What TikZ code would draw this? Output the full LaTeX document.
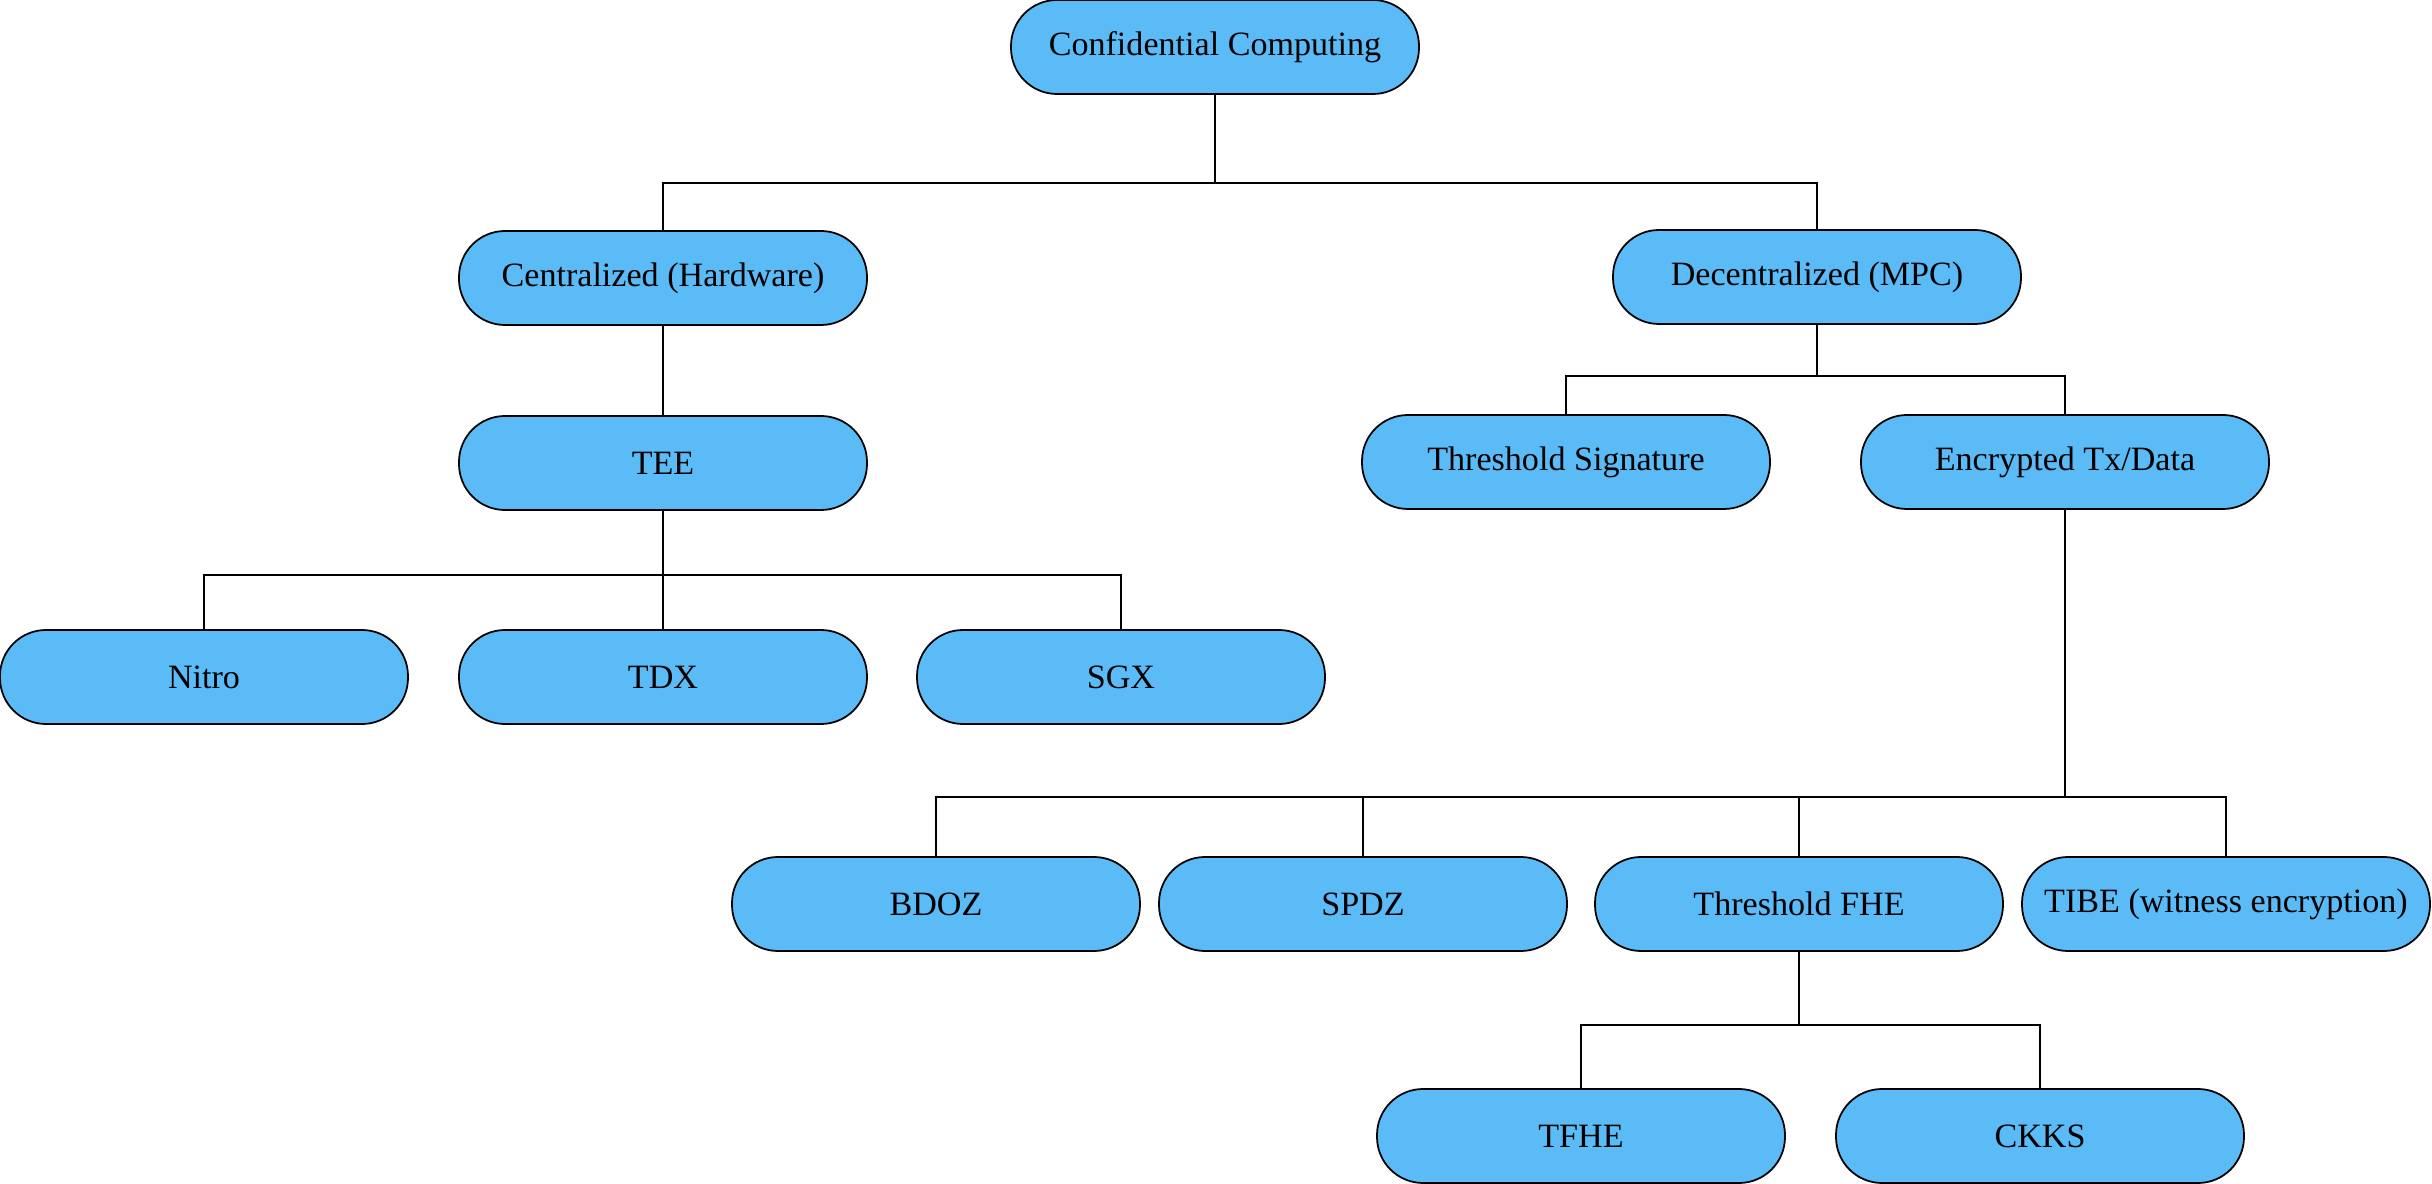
\documentclass[tikz,border=0pt]{standalone}
\usepackage{fontspec}
\setmainfont{Liberation Serif}
\usetikzlibrary{calc}
\definecolor{boxblue}{HTML}{5ABBF7}
\tikzset{
  box/.style={draw=black, line width=0.5pt, fill=boxblue, rounded corners=0.46cm,
    minimum width=4.08cm, minimum height=0.94cm, inner sep=0pt,
    font=\fontsize{9.7}{12}\selectfont},
  link/.style={draw=black, line width=0.4pt}
}

\begin{document}
\begin{tikzpicture}
			%%%%% START %%%%%
			\useasboundingbox (0, 0) rectangle (24.32, -11.84);
			
			\node[box] (conf) at (12.15, -0.47) {Confidential Computing};
			
			\node[box] (central) at (6.63, -2.78) {Centralized (Hardware)};
			\node[box] (decentral) at (18.17, -2.77) {Decentralized (MPC)};
			
			\node[box] (tee) at (6.63, -4.63) {TEE};
			\node[box] (thsig) at (15.66, -4.62) {Threshold Signature};
			\node[box] (enc) at (20.65, -4.62) {Encrypted Tx/Data};
			
			\node[box] (nitro) at (2.04, -6.77) {Nitro};
			\node[box] (tdx) at (6.63, -6.77) {TDX};
			\node[box] (sgx) at (11.21, -6.77) {SGX};
			
			\node[box] (bdoz) at (9.36, -9.04) {BDOZ};
			\node[box] (spdz) at (13.63, -9.04) {SPDZ};
			\node[box] (thfhe) at (17.99, -9.04) {Threshold FHE};
			\node[box] (tibe) at (22.26, -9.04) {TIBE (witness encryption)};
			
			\node[box] (tfhe) at (15.81, -11.36) {TFHE};
			\node[box] (ckks) at (20.40, -11.36) {CKKS};
			
			% links
			\draw[link] (conf.south) -- ++(0, -0.88) coordinate (busconf);
			\foreach \c in {central, decentral}
				\draw[link] (busconf) -| (\c.north);
			
			\draw[link] (central.south) -- (tee.north);
			
			\draw[link] (tee.south) -- ++(0, -0.64) coordinate (bustee);
			\foreach \c in {nitro, tdx, sgx}
				\draw[link] (bustee) -| (\c.north);
			
			\draw[link] (decentral.south) -- ++(0, -0.51) coordinate (busdec);
			\foreach \c in {thsig, enc}
				\draw[link] (busdec) -| (\c.north);
			
			\draw[link] (enc.south) -- ++(0, -2.87) coordinate (busenc);
			\foreach \c in {bdoz, spdz, thfhe, tibe}
				\draw[link] (busenc) -| (\c.north);
			
			\draw[link] (thfhe.south) -- ++(0, -0.73) coordinate (busfhe);
			\foreach \c in {tfhe, ckks}
				\draw[link] (busfhe) -| (\c.north);
			
			%%%%% END %%%%%
\end{tikzpicture}
\end{document}
